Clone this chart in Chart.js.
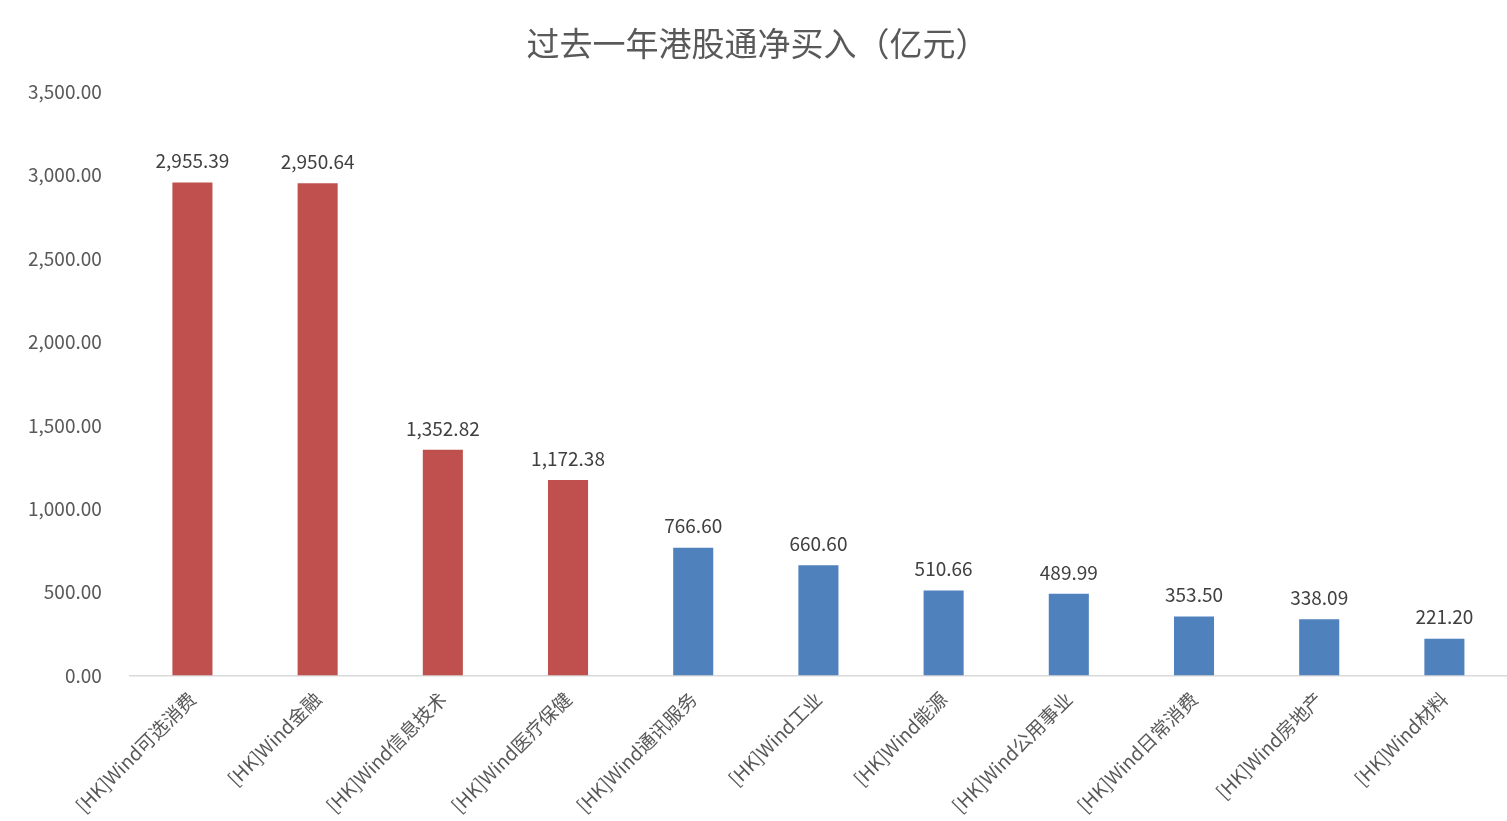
<!DOCTYPE html>
<html><head><meta charset="utf-8">
<script src="https://cdn.jsdelivr.net/npm/chart.js@4"></script>
<style>html,body{margin:0;padding:0;background:#fff}#w{width:1507px;height:821px}</style>
</head><body><div id="w"><canvas id="c"></canvas></div>
<script>
const categories = ["[HK]Wind可选消费","[HK]Wind金融","[HK]Wind信息技术","[HK]Wind医疗保健","[HK]Wind通讯服务","[HK]Wind工业","[HK]Wind能源","[HK]Wind公用事业","[HK]Wind日常消费","[HK]Wind房地产","[HK]Wind材料"];
const values = [2955.39,2950.64,1352.82,1172.38,766.60,660.60,510.66,489.99,353.50,338.09,221.20];
const highlightCount = 4;
const FONT = '"Noto Sans CJK SC","Noto Sans",sans-serif';
const fmt = v => v.toLocaleString('en-US',{minimumFractionDigits:2,maximumFractionDigits:2});
const labelPlugin = {id:'lbl',afterDatasetsDraw(ch){const ctx=ch.ctx;const m=ch.getDatasetMeta(0);ctx.save();ctx.font='19px '+FONT;ctx.fillStyle='#404040';ctx.textAlign='center';ctx.textBaseline='bottom';m.data.forEach((b,i)=>ctx.fillText(fmt(values[i]),b.x,b.y-12));ctx.restore();}};
new Chart(document.getElementById('c'),{type:'bar',
data:{labels:categories,datasets:[{data:values,backgroundColor:values.map((v,i)=>i<highlightCount?'#C0504D':'#4F81BD'),barPercentage:0.32,categoryPercentage:1}]},
options:{responsive:true,maintainAspectRatio:false,animation:false,
layout:{padding:{top:10,right:0,left:8,bottom:0}},
plugins:{legend:{display:false},tooltip:{enabled:false},
title:{display:true,text:'过去一年港股通净买入（亿元）',color:'#595959',font:{family:FONT,size:33,weight:'normal'},padding:{top:14,bottom:28}}},
scales:{y:{min:0,max:3500,ticks:{stepSize:500,callback:v=>fmt(v),color:'#595959',font:{family:FONT,size:19},padding:20},grid:{display:false},border:{display:false}},
x:{ticks:{color:'#595959',font:{family:FONT,size:19},minRotation:45,maxRotation:45,padding:4},grid:{display:false},border:{color:'#D9D9D9',width:1.5}}}},
plugins:[labelPlugin]});
</script></body></html>
